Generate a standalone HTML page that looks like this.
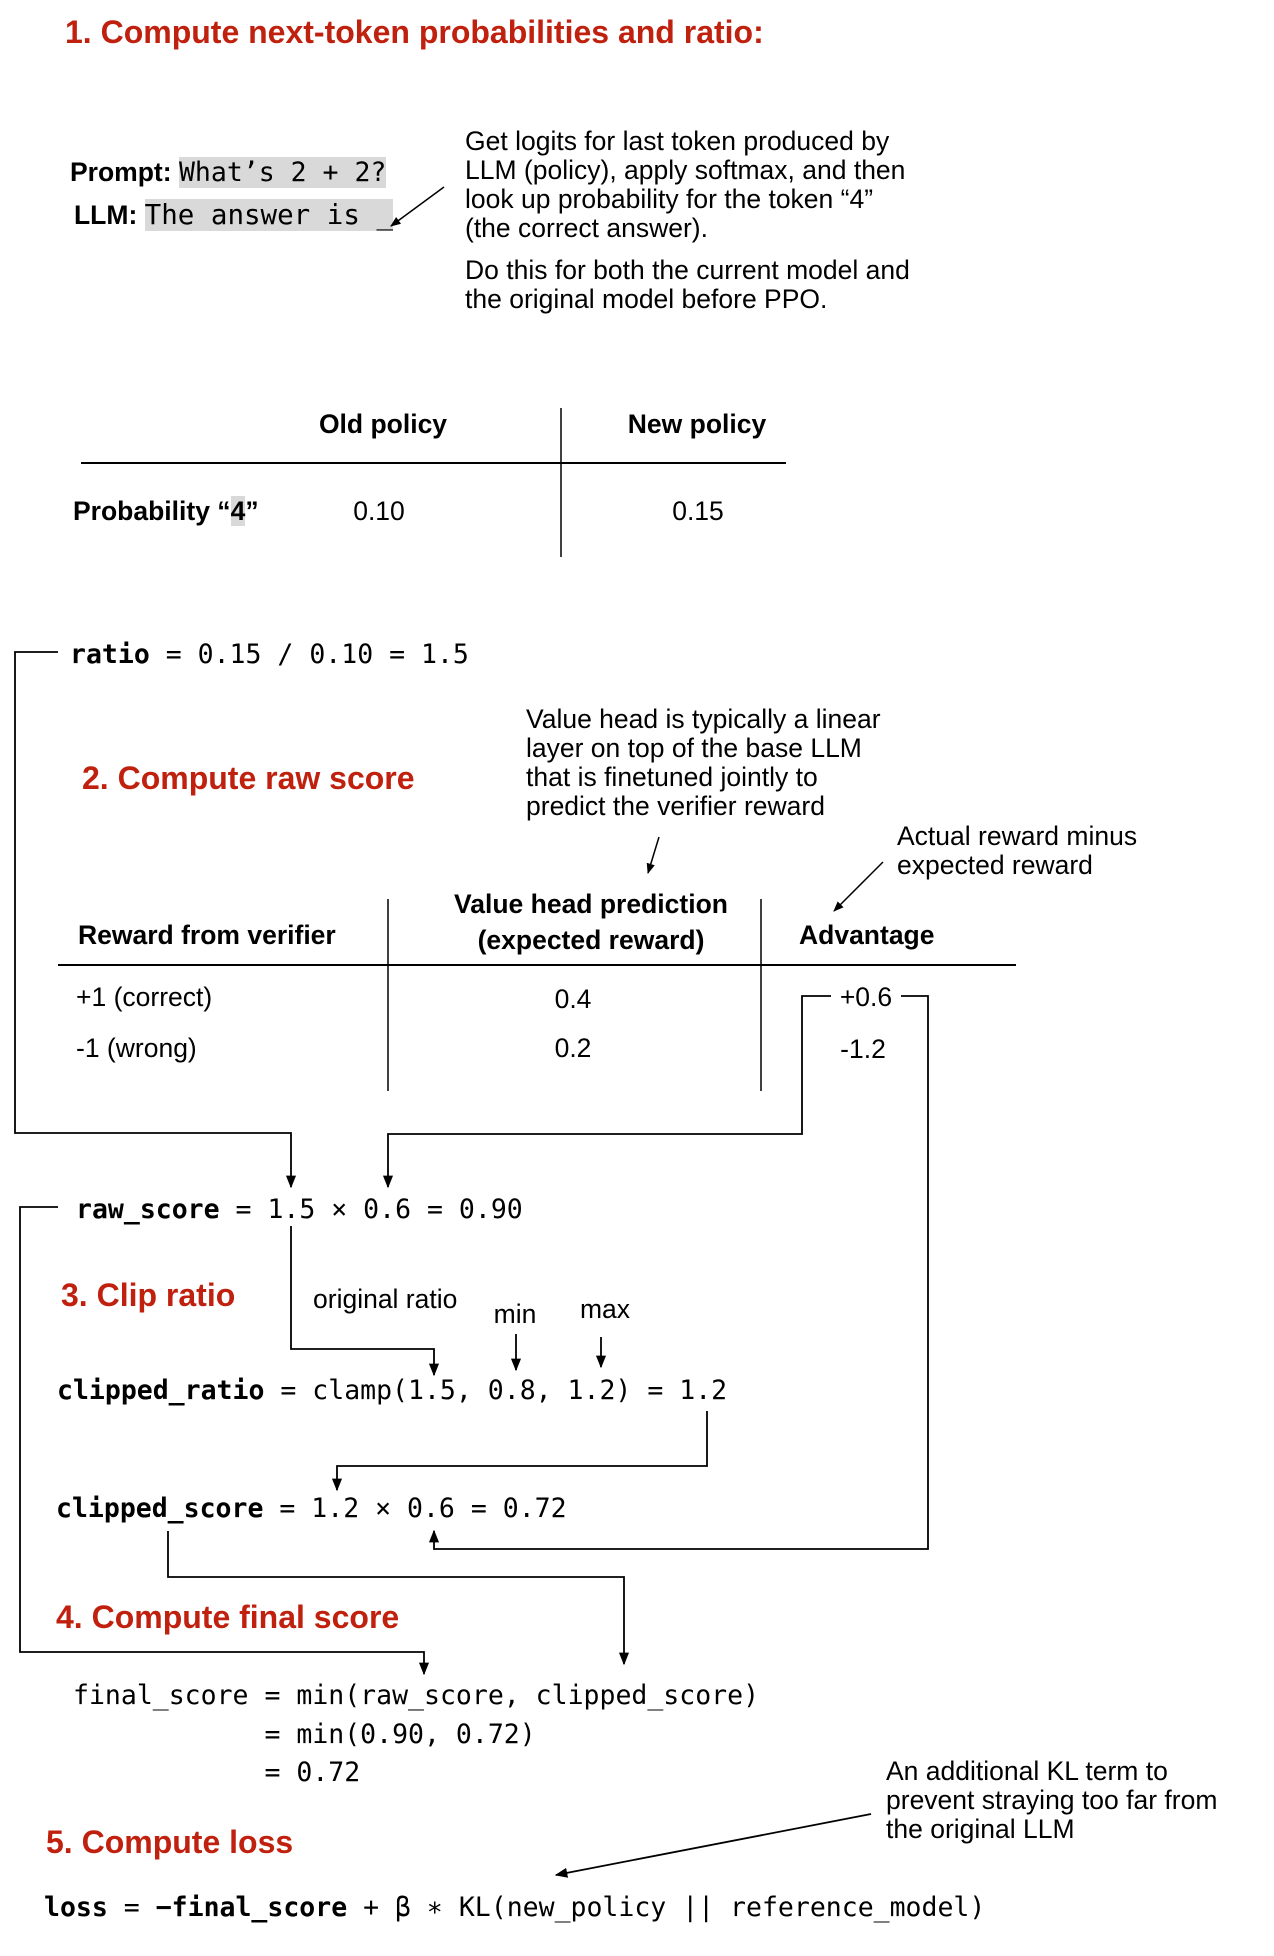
<!DOCTYPE html>
<html><head><meta charset="utf-8"><style>
body{margin:0;width:1274px;height:1956px;background:#fff;position:relative;overflow:hidden;font-family:"Liberation Sans",Arial,sans-serif;color:#000}
.t{position:absolute;white-space:pre;line-height:1}
.h{color:#c0210f;font-weight:bold;font-size:32px}
.s{font-size:26.5px}
.b{font-weight:bold}
.m{font-family:"DejaVu Sans Mono","Liberation Mono",monospace;font-size:26.5px}
.g{background:#d9d9d9}
.c{transform:translateX(-50%)}
</style></head><body>
<div class="t h" style="left:65px;top:16px">1. Compute next-token probabilities and ratio:</div>

<div class="t s" style="left:70px;top:159px"><b>Prompt:</b> <span class="m g" style="font-size:26.5px">What’s 2 + 2?</span></div>
<div class="t s" style="left:74px;top:202px"><b>LLM:</b> <span class="m g" style="font-size:27.5px">The answer is _</span></div>

<div class="t s" style="left:465px;top:127px;line-height:29px">Get logits for last token produced by
LLM (policy), apply softmax, and then
look up probability for the token “4”
(the correct answer).</div>
<div class="t s" style="left:465px;top:256px;line-height:29px">Do this for both the current model and
the original model before PPO.</div>

<div class="t s b c" style="left:383px;top:411px">Old policy</div>
<div class="t s b c" style="left:697px;top:411px">New policy</div>
<div class="t s b" style="left:73px;top:498px">Probability “<span class="g">4</span>”</div>
<div class="t s c" style="left:379px;top:498px">0.10</div>
<div class="t s c" style="left:698px;top:498px">0.15</div>

<div class="t m" style="left:70px;top:642px"><b>ratio</b> = 0.15 / 0.10 = 1.5</div>

<div class="t h" style="left:82px;top:762px">2. Compute raw score</div>
<div class="t s" style="left:526px;top:705px;line-height:29px">Value head is typically a linear
layer on top of the base LLM
that is finetuned jointly to
predict the verifier reward</div>
<div class="t s" style="left:897px;top:822px;line-height:29px">Actual reward minus
expected reward</div>

<div class="t s b" style="left:78px;top:922px">Reward from verifier</div>
<div class="t s b c" style="left:591px;top:886px;text-align:center;line-height:36px">Value head prediction
(expected reward)</div>
<div class="t s b" style="left:799px;top:922px">Advantage</div>
<div class="t s" style="left:76px;top:984px">+1 (correct)</div>
<div class="t s" style="left:76px;top:1035px">-1 (wrong)</div>
<div class="t s c" style="left:573px;top:986px">0.4</div>
<div class="t s c" style="left:573px;top:1035px">0.2</div>
<div class="t s c" style="left:866px;top:984px">+0.6</div>
<div class="t s c" style="left:863px;top:1036px">-1.2</div>

<div class="t m" style="left:76px;top:1197px"><b>raw_score</b> = 1.5 × 0.6 = 0.90</div>

<div class="t h" style="left:61px;top:1279px">3. Clip ratio</div>
<div class="t s" style="left:313px;top:1286px">original ratio</div>
<div class="t s c" style="left:515px;top:1301px">min</div>
<div class="t s c" style="left:605px;top:1296px">max</div>
<div class="t m" style="left:57px;top:1378px"><b>clipped_ratio</b> = clamp(1.5, 0.8, 1.2) = 1.2</div>
<div class="t m" style="left:56px;top:1496px"><b>clipped_score</b> = 1.2 × 0.6 = 0.72</div>

<div class="t h" style="left:56px;top:1601px">4. Compute final score</div>
<div class="t m" style="left:73px;top:1677px;line-height:38.5px">final_score = min(raw_score, clipped_score)
            = min(0.90, 0.72)
            = 0.72</div>

<div class="t s" style="left:886px;top:1757px;line-height:29px">An additional KL term to
prevent straying too far from
the original LLM</div>
<div class="t h" style="left:46px;top:1826px">5. Compute loss</div>
<div class="t m" style="left:44px;top:1895px"><b>loss</b> = <b>−final_score</b> + β ∗ KL(new_policy || reference_model)</div>

<svg width="1274" height="1956" style="position:absolute;left:0;top:0" fill="none" stroke="#000" stroke-width="2">
<defs><marker id="a" viewBox="0 0 10 10" refX="9" refY="5" markerWidth="7" markerHeight="7" orient="auto"><path d="M0,1L10,5L0,9z" fill="#000" stroke="none"/></marker></defs>
<line x1="444" y1="187" x2="391" y2="226" marker-end="url(#a)" stroke-width="1.5"/>
<line x1="81" y1="463" x2="786" y2="463"/>
<line x1="561" y1="408" x2="561" y2="557" stroke-width="1.5"/>
<line x1="659" y1="837" x2="648" y2="873" marker-end="url(#a)" stroke-width="1.5"/>
<line x1="883" y1="862" x2="834" y2="911" marker-end="url(#a)" stroke-width="1.5"/>
<line x1="58" y1="965" x2="1016" y2="965"/>
<line x1="388" y1="899" x2="388" y2="1091" stroke-width="1.5"/>
<line x1="761" y1="899" x2="761" y2="1091" stroke-width="1.5"/>
<g stroke-width="1.8">
<polyline points="58,652 15,652 15,1133 291,1133 291,1187" marker-end="url(#a)"/>
<polyline points="831,996 802,996 802,1134 388,1134 388,1187" marker-end="url(#a)"/>
<polyline points="901,996 928,996 928,1549 434,1549 434,1531" marker-end="url(#a)"/>
<polyline points="58,1207 20,1207 20,1652 424,1652 424,1674" marker-end="url(#a)"/>
<polyline points="291,1226 291,1349 434,1349 434,1375" marker-end="url(#a)"/>
<line x1="516" y1="1334" x2="516" y2="1370" marker-end="url(#a)"/>
<line x1="601" y1="1337" x2="601" y2="1367" marker-end="url(#a)"/>
<polyline points="707,1411 707,1466 337,1466 337,1490" marker-end="url(#a)"/>
<polyline points="168,1531 168,1577 624,1577 624,1664" marker-end="url(#a)"/>
<line x1="871" y1="1814" x2="556" y2="1875" marker-end="url(#a)"/>
</g>
</svg>
</body></html>
